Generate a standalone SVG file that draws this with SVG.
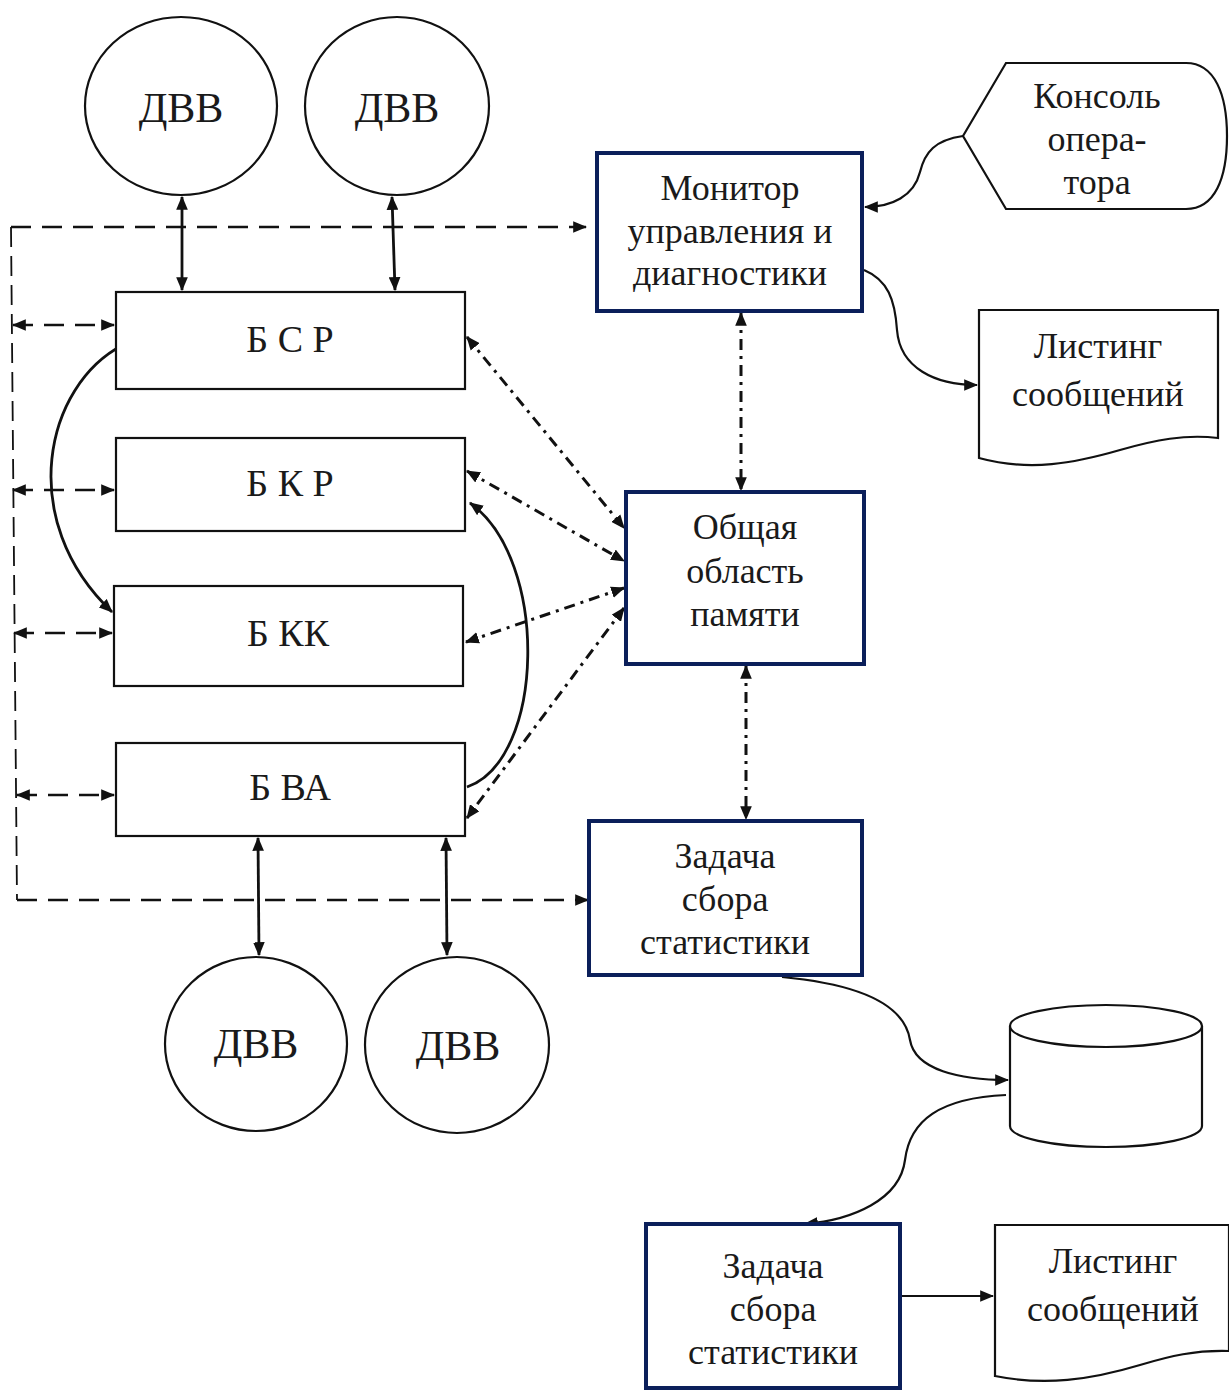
<svg xmlns="http://www.w3.org/2000/svg" width="1229" height="1390" viewBox="0 0 1229 1390">
  <style>
    .lbl { font-family: "Liberation Serif", "Times New Roman", serif; fill: #1a1a1a; text-anchor: middle; }
    .big { font-size: 42px; }
    .blk { font-size: 38px; }
    .mid { font-size: 36px; }
    .box { fill: #ffffff; stroke: #111111; stroke-width: 2.2; }
    .nav { fill: #ffffff; stroke: #0b1f5a; stroke-width: 4; }
    .ell { fill: #ffffff; stroke: #111111; stroke-width: 2.2; }
    .solid { fill: none; stroke: #111111; stroke-width: 2.8; }
    .thin { fill: none; stroke: #111111; stroke-width: 2.2; }
    .dash { fill: none; stroke: #111111; stroke-width: 2.6; stroke-dasharray: 20 11; }
    .dashv { fill: none; stroke: #111111; stroke-width: 1.8; stroke-dasharray: 20 9; }
    .dashdot { fill: none; stroke: #111111; stroke-width: 3; stroke-dasharray: 11 6 3 6; }
  </style>
  <defs>
    <marker id="arr" viewBox="0 0 12 10" refX="11" refY="5" markerWidth="14" markerHeight="12" markerUnits="userSpaceOnUse" orient="auto-start-reverse">
      <path d="M0,0 L12,5 L0,10 Z" fill="#111111"/>
    </marker>
  </defs>

  <rect width="1229" height="1390" fill="#ffffff"/>

  <!-- connectors -->
  <g id="connectors">
    <!-- drive links -->
    <line class="solid" x1="182" y1="197" x2="182" y2="290" marker-start="url(#arr)" marker-end="url(#arr)"/>
    <line class="solid" x1="392" y1="197" x2="395" y2="290" marker-start="url(#arr)" marker-end="url(#arr)"/>
    <line class="solid" x1="258" y1="838" x2="259" y2="955" marker-start="url(#arr)" marker-end="url(#arr)"/>
    <line class="solid" x1="446" y1="838" x2="447" y2="955" marker-start="url(#arr)" marker-end="url(#arr)"/>

    <!-- outer dashed bus -->
    <line class="dash" x1="11" y1="227" x2="586" y2="227" marker-end="url(#arr)"/>
    <line class="dashv" x1="11" y1="227" x2="17" y2="900"/>
    <line class="dash" x1="17" y1="900" x2="588" y2="900" marker-end="url(#arr)"/>
    <line class="dash" x1="13" y1="325" x2="114" y2="325" marker-start="url(#arr)" marker-end="url(#arr)"/>
    <line class="dash" x1="13" y1="490" x2="114" y2="490" marker-start="url(#arr)" marker-end="url(#arr)"/>
    <line class="dash" x1="14" y1="633" x2="112" y2="633" marker-start="url(#arr)" marker-end="url(#arr)"/>
    <line class="dash" x1="17" y1="795" x2="114" y2="795" marker-start="url(#arr)" marker-end="url(#arr)"/>

    <!-- block-to-block curves -->
    <path class="solid" d="M123,345 C45,385 15,520 112,612" marker-end="url(#arr)"/>
    <path class="solid" d="M467,787 C545,760 550,560 470,503" marker-end="url(#arr)"/>

    <!-- shared memory links -->
    <line class="dashdot" x1="467" y1="337" x2="624" y2="528" marker-start="url(#arr)" marker-end="url(#arr)"/>
    <line class="dashdot" x1="467" y1="471" x2="624" y2="561" marker-start="url(#arr)" marker-end="url(#arr)"/>
    <line class="dashdot" x1="624" y1="588" x2="466" y2="642" marker-start="url(#arr)" marker-end="url(#arr)"/>
    <line class="dashdot" x1="624" y1="608" x2="467" y2="818" marker-start="url(#arr)" marker-end="url(#arr)"/>
    <line class="dashdot" x1="741" y1="313" x2="741" y2="490" marker-start="url(#arr)" marker-end="url(#arr)"/>
    <line class="dashdot" x1="746" y1="666" x2="746" y2="819" marker-start="url(#arr)" marker-end="url(#arr)"/>

    <!-- console / listings / storage -->
    <path class="thin" d="M963,136 C935,140 925,152 920,172 C914,196 892,207 865,207" marker-end="url(#arr)"/>
    <path class="thin" d="M864,270 C888,280 895,300 897,330 C900,368 935,385 977,385" marker-end="url(#arr)"/>
    <path class="thin" d="M782,977 C868,985 905,1008 910,1040 C915,1070 960,1080 1008,1080" marker-end="url(#arr)"/>
    <path class="thin" d="M1006,1095 C940,1098 910,1120 905,1160 C900,1200 852,1220 805,1224" marker-end="url(#arr)"/>
    <line class="thin" x1="901" y1="1296" x2="993" y2="1296" marker-end="url(#arr)"/>
  </g>

  <!-- drives -->
  <g id="dvv-1"><ellipse class="ell" cx="181" cy="106" rx="96" ry="89"/><text class="lbl big" x="181" y="122">ДВВ</text></g>
  <g id="dvv-2"><ellipse class="ell" cx="397" cy="106" rx="92" ry="89"/><text class="lbl big" x="397" y="122">ДВВ</text></g>
  <g id="dvv-3"><ellipse class="ell" cx="256" cy="1044" rx="91" ry="87"/><text class="lbl big" x="256" y="1058">ДВВ</text></g>
  <g id="dvv-4"><ellipse class="ell" cx="457" cy="1045" rx="92" ry="88"/><text class="lbl big" x="458" y="1060">ДВВ</text></g>

  <!-- processing blocks -->
  <g id="bsr"><rect class="box" x="116" y="292" width="349" height="97"/><text class="lbl blk" x="290" y="352">Б С Р</text></g>
  <g id="bkr"><rect class="box" x="116" y="438" width="349" height="93"/><text class="lbl blk" x="290" y="496">Б К Р</text></g>
  <g id="bkk"><rect class="box" x="114" y="586" width="349" height="100"/><text class="lbl blk" x="288" y="646">Б КК</text></g>
  <g id="bva"><rect class="box" x="116" y="743" width="349" height="93"/><text class="lbl blk" x="290" y="800">Б ВА</text></g>

  <!-- tasks -->
  <g id="monitor">
    <rect class="nav" x="597" y="153" width="265" height="158"/>
    <text class="lbl mid" x="730" y="200">Монитор</text>
    <text class="lbl mid" x="730" y="243">управления и</text>
    <text class="lbl mid" x="730" y="285">диагностики</text>
  </g>
  <g id="shared-memory">
    <rect class="nav" x="626" y="492" width="238" height="172"/>
    <text class="lbl mid" x="745" y="539">Общая</text>
    <text class="lbl mid" x="745" y="583">область</text>
    <text class="lbl mid" x="745" y="626">памяти</text>
  </g>
  <g id="stats-1">
    <rect class="nav" x="589" y="821" width="273" height="154"/>
    <text class="lbl mid" x="725" y="868">Задача</text>
    <text class="lbl mid" x="725" y="911">сбора</text>
    <text class="lbl mid" x="725" y="954">статистики</text>
  </g>
  <g id="stats-2">
    <rect class="nav" x="646" y="1224" width="254" height="164"/>
    <text class="lbl mid" x="773" y="1278">Задача</text>
    <text class="lbl mid" x="773" y="1321">сбора</text>
    <text class="lbl mid" x="773" y="1364">статистики</text>
  </g>

  <!-- operator console -->
  <g id="console">
    <path class="box" stroke-width="3" d="M963,136 L1006,63 L1186,63 C1215,63 1227,95 1227,136 C1227,178 1215,209 1186,209 L1006,209 Z"/>
    <text class="lbl mid" x="1097" y="108">Консоль</text>
    <text class="lbl mid" x="1097" y="151">опера-</text>
    <text class="lbl mid" x="1097" y="194">тора</text>
  </g>

  <!-- printouts -->
  <g id="listing-1">
    <path class="box" stroke-width="3" d="M979,310 L1218,310 L1218,438 C1185,434 1155,440 1120,450 C1075,463 1030,472 979,458 Z"/>
    <text class="lbl mid" x="1098" y="358">Листинг</text>
    <text class="lbl mid" x="1098" y="406">сообщений</text>
  </g>
  <g id="listing-2">
    <path class="box" stroke-width="3" d="M995,1225 L1229,1225 L1229,1351 C1195,1350 1170,1356 1140,1365 C1090,1380 1045,1386 995,1376 Z"/>
    <text class="lbl mid" x="1113" y="1273">Листинг</text>
    <text class="lbl mid" x="1113" y="1321">сообщений</text>
  </g>

  <!-- statistics store -->
  <g id="storage">
    <path class="box" stroke-width="3" d="M1010,1026 L1010,1126 A96,21 0 0 0 1202,1126 L1202,1026"/>
    <ellipse class="box" stroke-width="3" cx="1106" cy="1026" rx="96" ry="21"/>
  </g>
</svg>
